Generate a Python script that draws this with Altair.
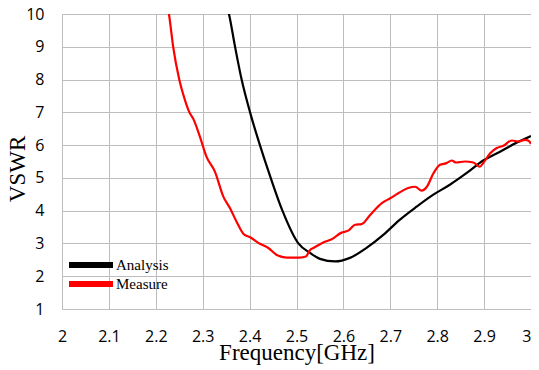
import altair as alt
import pandas as pd

# ---- data ----
series_names = ["Analysis", "Measure"]
series_colors = ["#000000", "#ff0000"]

freq_analysis = [2.340, 2.356, 2.369, 2.383, 2.401, 2.422, 2.445, 2.470, 2.504,
                 2.529, 2.550, 2.582, 2.614, 2.650, 2.685, 2.720, 2.756, 2.791,
                 2.827, 2.863, 2.898, 2.934, 2.970, 3.000]
vswr_analysis = [10.7, 10.0, 9.0, 8.0, 7.0, 6.0, 5.0, 4.0, 3.0,
                 2.71, 2.53, 2.45, 2.56, 2.87, 3.26, 3.72, 4.12, 4.48,
                 4.79, 5.15, 5.53, 5.80, 6.08, 6.28]

freq_measure = [2.220, 2.228, 2.237, 2.250, 2.262, 2.271, 2.280, 2.294, 2.308,
                2.326, 2.344, 2.358, 2.372, 2.387, 2.401, 2.422, 2.440, 2.458,
                2.479, 2.507, 2.520, 2.529, 2.536, 2.557, 2.575, 2.596, 2.610,
                2.625, 2.639, 2.657, 2.682, 2.700, 2.717, 2.738, 2.753, 2.767,
                2.778, 2.792, 2.806, 2.820, 2.831, 2.840, 2.859, 2.877, 2.891,
                2.898, 2.913, 2.927, 2.941, 2.959, 2.973, 2.987, 2.994, 3.000]
vswr_measure = [10.5, 10.0, 9.0, 8.0, 7.38, 7.02, 6.80, 6.26, 5.65,
                5.19, 4.43, 4.08, 3.67, 3.29, 3.19, 2.99, 2.86, 2.65,
                2.57, 2.57, 2.60, 2.80, 2.86, 3.03, 3.13, 3.33, 3.39,
                3.57, 3.59, 3.87, 4.23, 4.38, 4.53, 4.69, 4.73, 4.61,
                4.73, 5.14, 5.40, 5.45, 5.53, 5.47, 5.50, 5.47, 5.34,
                5.45, 5.75, 5.91, 5.98, 6.14, 6.11, 6.16, 6.14, 6.04]

x_ticks = [2, 2.1, 2.2, 2.3, 2.4, 2.5, 2.6, 2.7, 2.8, 2.9, 3]
y_ticks = [1, 2, 3, 4, 5, 6, 7, 8, 9, 10]

df = pd.concat([
    pd.DataFrame({"freq": freq_analysis, "vswr": vswr_analysis, "series": series_names[0]}),
    pd.DataFrame({"freq": freq_measure, "vswr": vswr_measure, "series": series_names[1]}),
], ignore_index=True)

grid_color = "#bdbdbd"

chart = alt.Chart(df).mark_line(clip=True, strokeWidth=2.2, interpolate="monotone").encode(
    x=alt.X("freq:Q",
            scale=alt.Scale(domain=[2, 3], nice=False, zero=False),
            axis=alt.Axis(values=x_ticks, format=".1~f", title="Frequency[GHz]",
                          grid=True, gridColor=grid_color, domainColor=grid_color,
                          ticks=False, labelPadding=19, labelFlush=False,
                          labelAlign=alt.ExprRef("datum.value >= 3 ? 'right' : 'center'"),
                          labelFont="Open Sans", labelFontSize=16, labelColor="#000000",
                          titleFont="Liberation Serif", titleFontSize=23, titleFontWeight="normal",
                          titleColor="#000000", titleBaseline="alphabetic",
                          titleX=234.5, titleY=50)),
    y=alt.Y("vswr:Q",
            scale=alt.Scale(domain=[1, 10], nice=False, zero=False),
            axis=alt.Axis(values=y_ticks, title="VSWR",
                          grid=True, gridColor=grid_color, domainColor=grid_color,
                          ticks=False, labelPadding=18, labelFlush=False,
                          labelFont="Open Sans", labelFontSize=16, labelColor="#000000",
                          titleFont="Liberation Serif", titleFontSize=23, titleFontWeight="normal",
                          titleColor="#000000", titleBaseline="middle", titleAlign="center",
                          titleAngle=-90, titleX=-44.5, titleY=154.5)),
    color=alt.Color("series:N",
                    scale=alt.Scale(domain=series_names, range=series_colors),
                    legend=alt.Legend(orient="none", legendX=4, legendY=241.5, title=None,
                                      symbolType="stroke", symbolSize=1936,
                                      symbolStrokeWidth=6, padding=0, rowPadding=0,
                                      clipHeight=19,
                                      labelFont="Liberation Serif", labelFontSize=15,
                                      labelColor="#000000", labelOffset=0)),
).properties(
    width=469, height=295,
    autosize=alt.AutoSizeParams(type="none"),
    padding={"left": 54, "top": 6, "right": 0, "bottom": 57},
).configure_view(stroke=None)

chart.save("out.html", embed_options={"renderer": "svg", "actions": False})
